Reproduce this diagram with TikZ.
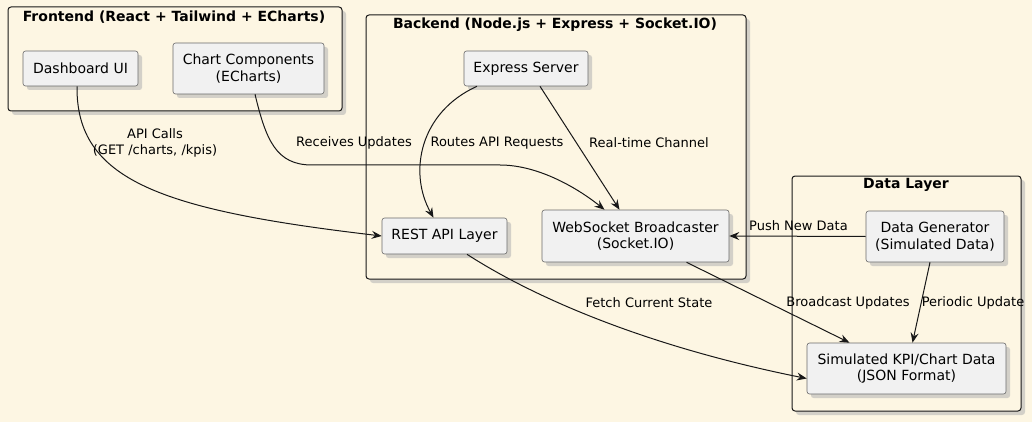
\documentclass[tikz,border=0pt]{standalone}
\usepackage{fontspec}
\setmainfont{DejaVu Sans}
\usetikzlibrary{arrows.meta,shadows}
\definecolor{bgcream}{HTML}{FDF6E3}
\definecolor{boxfill}{HTML}{F1F1F1}
\definecolor{boxline}{HTML}{6A6A6A}
\definecolor{inkline}{HTML}{181818}

\begin{document}
\begin{tikzpicture}[x=1pt, y=-1pt,
  comp/.style={draw=boxline, line width=0.6pt, fill=boxfill, rounded corners=2.5pt, align=center,
    font=\fontsize{14}{16.5}\selectfont, inner sep=0pt,
    drop shadow={shadow xshift=4pt, shadow yshift=-4pt, fill=black!30, opacity=0.55}},
  group/.style={draw=inkline, line width=1pt, fill=bgcream, rounded corners=3pt, inner sep=0pt,
    drop shadow={shadow xshift=4pt, shadow yshift=-4pt, fill=black!30, opacity=0.55}},
  gtitle/.style={font=\fontsize{14}{16.5}\selectfont\bfseries},
  lbl/.style={font=\fontsize{13}{15.5}\selectfont, align=center, inner sep=1pt},
  flow/.style={draw=inkline, line width=1pt, -{Stealth[length=10pt, width=8pt, inset=3.5pt]}}]
\fill[bgcream] (0,0) rectangle (1032,422);
\useasboundingbox (0,0) rectangle (1032,422);
% groups
\node[group, minimum width=334, minimum height=104] (frontend) at (175,59) {};
\node[gtitle] (frontendT) at (174,17) {Frontend (React + Tailwind + ECharts)};
\node[group, minimum width=380, minimum height=264] (backend) at (556,147) {};
\node[gtitle] (backendT) at (555,25) {Backend (Node.js + Express + Socket.IO)};
\node[group, minimum width=229, minimum height=235] (datalayer) at (906.5,293.5) {};
\node[gtitle] (datalayerT) at (906,185) {Data Layer};
% components
\node[comp, minimum width=115, minimum height=35] (dash) at (80.5,68.5) {Dashboard UI};
\node[comp, minimum width=151, minimum height=51] (charts) at (248.5,68.5) {Chart Components\\(ECharts)};
\node[comp, minimum width=124, minimum height=35] (express) at (526,68.5) {Express Server};
\node[comp, minimum width=125, minimum height=36] (rest) at (444.5,236) {REST API Layer};
\node[comp, minimum width=187, minimum height=52] (ws) at (635.5,236) {WebSocket Broadcaster\\(Socket.IO)};
\node[comp, minimum width=138, minimum height=51] (gen) at (935,236.5) {Data Generator\\(Simulated Data)};
\node[comp, minimum width=199, minimum height=51] (kpi) at (906.5,368.5) {Simulated KPI/Chart Data\\(JSON Format)};
% connectors
\draw[flow] ([xshift=-3.5]dash.south) .. controls (76,180) and (160,210) .. (rest.west);
\draw[flow] ([xshift=6.5]charts.south) .. controls (266,140) and (276,165) .. (312,165)
  -- (500,165) .. controls (540,165) and (580,190) .. ([xshift=-31]ws.north);
\draw[flow] ([xshift=-49]express.south) .. controls (420,112) and (408,172) .. ([xshift=-11]rest.north);
\draw[flow] ([xshift=14]express.south) -- ([xshift=-16]ws.north);
\draw[flow] (gen.west) -- (ws.east);
\draw[flow] ([xshift=22.5]rest.south) .. controls (530,295) and (640,345) .. ([yshift=-10]kpi.west);
\draw[flow] ([xshift=51]ws.south) -- ([xshift=-57]kpi.north);
\draw[flow] ([xshift=-5]gen.south) -- ([xshift=6]kpi.north);
% labels
\node[lbl] (apicalls) at (155,143) {API Calls\\(GET /charts, /kpis)};
\node[lbl] (recv) at (354,143) {Receives Updates};
\node[lbl] (routes) at (497,143) {Routes API Requests};
\node[lbl] (rtc) at (649,143) {Real-time Channel};
\node[lbl, anchor=west] (push) at (748,226) {Push New Data};
\node[lbl] (fetch) at (649,303) {Fetch Current State};
\node[lbl] (bcast) at (848,303) {Broadcast Updates};
\node[lbl] (periodic) at (973,303) {Periodic Update};
\end{tikzpicture}
\end{document}
